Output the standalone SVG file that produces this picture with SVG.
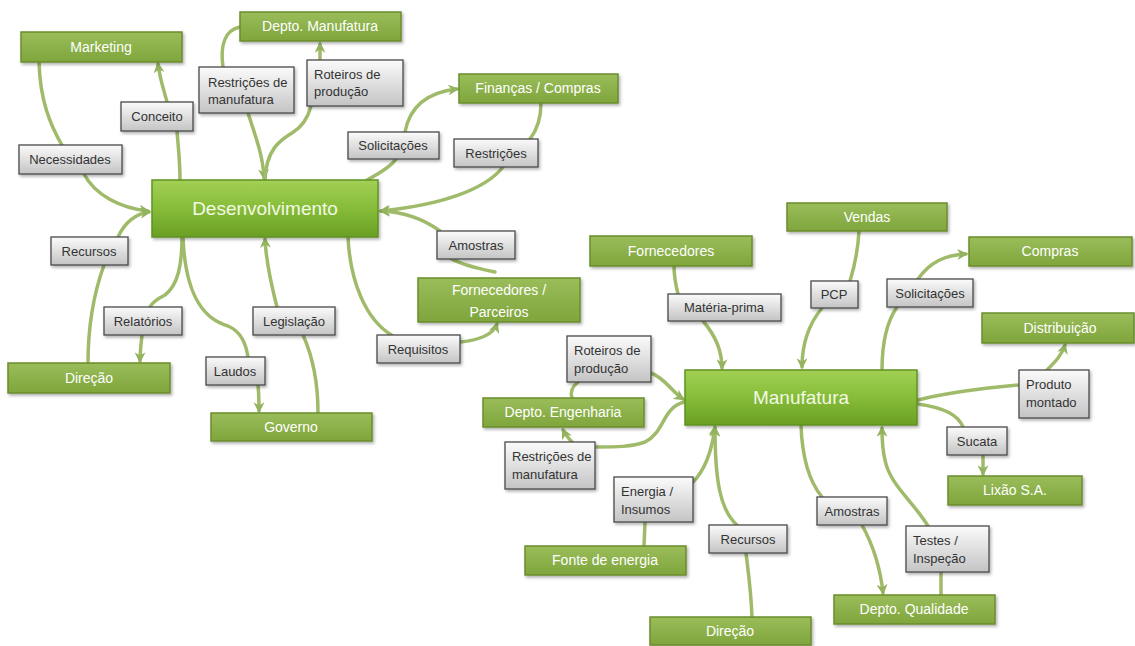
<svg xmlns="http://www.w3.org/2000/svg" width="1135" height="646" viewBox="0 0 1135 646">
<defs>
<linearGradient id="gGreen" x1="0" y1="0" x2="0" y2="1">
<stop offset="0" stop-color="#9abd5a"/>
<stop offset="1" stop-color="#7fa53c"/>
</linearGradient>
<linearGradient id="gCenter" x1="0" y1="0" x2="0" y2="1">
<stop offset="0" stop-color="#a2d055"/>
<stop offset="0.5" stop-color="#86bc38"/>
<stop offset="1" stop-color="#6a9f24"/>
</linearGradient>
<linearGradient id="gGray" x1="0" y1="0" x2="0" y2="1">
<stop offset="0" stop-color="#fbfbfb"/>
<stop offset="1" stop-color="#c4c4c4"/>
</linearGradient>
<filter id="sh" x="-10%" y="-20%" width="125%" height="150%">
<feDropShadow dx="1.5" dy="2" stdDeviation="1.5" flood-color="#000" flood-opacity="0.3"/>
</filter>
<marker id="arr" viewBox="0 0 10 10" refX="8" refY="5" markerWidth="11" markerHeight="11" markerUnits="userSpaceOnUse" orient="auto">
<path d="M0,0 L10,5 L0,10 L3,5 z" fill="#93b35e"/>
</marker>
</defs>
<style>
.c{fill:none;stroke:#9fbb6a;stroke-width:3.5;stroke-linecap:round}
.a{marker-end:url(#arr)}
.g{fill:url(#gGreen);stroke:#6b8d2e;stroke-width:1.5;filter:url(#sh)}
.m{fill:url(#gCenter);stroke:#5f9220;stroke-width:1.5;filter:url(#sh)}
.l{fill:url(#gGray);stroke:#4a4a4a;stroke-width:1.3;filter:url(#sh)}
.gt{font-family:"Liberation Sans",Arial,sans-serif;font-size:14px;fill:#ffffff;text-anchor:middle}
.mt{font-family:"Liberation Sans",Arial,sans-serif;font-size:19px;fill:#f2f9e4;text-anchor:middle}
.lt{font-family:"Liberation Sans",Arial,sans-serif;font-size:13px;fill:#333333;text-anchor:middle}
.ll{font-family:"Liberation Sans",Arial,sans-serif;font-size:13px;fill:#333333}
</style>
<rect width="1135" height="646" fill="#ffffff"/>
<g id="connectors">
<path class="c" d="M39,62 C40,100 50,125 63,147"/>
<path class="c a" d="M84,174 C95,195 120,208 148,211"/>
<path class="c" d="M180,180 C180,160 178,145 177,131"/>
<path class="c a" d="M167,102 C164,90 160,80 158,64"/>
<path class="c" d="M240,27 C225,30 220,45 223,67"/>
<path class="c a" d="M248,113 C255,135 263,155 264,178"/>
<path class="c" d="M265,180 C266,150 280,140 292,133 C302,127 308,118 311,106"/>
<path class="c a" d="M320,60 L320,44"/>
<path class="c" d="M367,180 C382,172 392,165 396,159"/>
<path class="c a" d="M405,132 C410,105 430,92 457,89"/>
<path class="c" d="M541,103 C541,120 537,130 530,139"/>
<path class="c a" d="M503,167 C485,190 440,205 381,211"/>
<path class="c" d="M495,272 C475,268 460,264 450,258"/>
<path class="c a" d="M440,231 C425,220 405,212 381,211"/>
<path class="c" d="M348,237 C350,280 365,320 393,336"/>
<path class="c a" d="M460,342 C480,340 493,335 497,324"/>
<path class="c" d="M88,363 C88,320 95,290 104,265"/>
<path class="c a" d="M118,237 C125,222 135,214 149,212"/>
<path class="c" d="M182,237 C182,265 178,285 165,295 C155,300 152,303 150,307"/>
<path class="c a" d="M142,335 C141,345 140,352 140,361"/>
<path class="c" d="M183,237 C185,290 200,318 228,326 C242,332 246,345 248,357"/>
<path class="c a" d="M258,385 C259,395 259,402 259,411"/>
<path class="c" d="M318,413 C318,380 312,355 303,335"/>
<path class="c a" d="M277,307 C270,280 266,260 265,239"/>
<path class="c" d="M674,266 C674,278 676,286 678,294"/>
<path class="c a" d="M703,321 C715,335 722,350 722,368"/>
<path class="c" d="M859,231 C858,250 854,268 850,281"/>
<path class="c a" d="M822,308 C808,325 802,345 802,367"/>
<path class="c" d="M882,370 C882,340 888,320 897,307"/>
<path class="c a" d="M918,279 C930,262 945,255 966,254"/>
<path class="c" d="M918,400 C950,392 985,388 1019,385"/>
<path class="c a" d="M1047,370 C1055,362 1062,355 1065,345"/>
<path class="c" d="M918,404 C945,408 958,415 963,427"/>
<path class="c a" d="M983,455 L983,474"/>
<path class="c" d="M572,398 C570,392 573,386 578,382"/>
<path class="c a" d="M651,373 C665,378 672,392 683,399"/>
<path class="c" d="M684,402 C662,408 665,432 645,442 C632,447 615,447 597,447"/>
<path class="c a" d="M573,443 C568,438 565,434 563,430"/>
<path class="c" d="M644,546 L645,522"/>
<path class="c a" d="M693,482 C705,470 712,450 715,427"/>
<path class="c" d="M752,617 C751,590 748,570 746,553"/>
<path class="c a" d="M737,525 C720,510 715,480 715,428"/>
<path class="c" d="M801,425 C802,455 808,480 822,497"/>
<path class="c a" d="M862,525 C873,545 880,565 883,593"/>
<path class="c" d="M941,595 L941,572"/>
<path class="c a" d="M928,526 C912,500 890,485 885,460 C882,448 882,438 882,428"/>
</g>
<g id="n-desenvolvimento"><rect class="m" x="152" y="180" width="226" height="57"/><text class="mt" x="265" y="215">Desenvolvimento</text></g>
<g id="n-manufatura"><rect class="m" x="685" y="370" width="232" height="55"/><text class="mt" x="801" y="404">Manufatura</text></g>
<g id="n-marketing"><rect class="g" x="21" y="32" width="161" height="30"/><text class="gt" x="101" y="52">Marketing</text></g>
<g id="n-depto-manufatura"><rect class="g" x="240" y="12" width="161" height="29"/><text class="gt" x="320" y="31">Depto. Manufatura</text></g>
<g id="n-financas"><rect class="g" x="459" y="74" width="159" height="29"/><text class="gt" x="538" y="93">Finanças / Compras</text></g>
<g id="n-fornecedores-parceiros"><rect class="g" x="418" y="278" width="162" height="44"/><text class="gt" x="499" y="295">Fornecedores /</text><text class="gt" x="499" y="317">Parceiros</text></g>
<g id="n-direcao-1"><rect class="g" x="8" y="363" width="162" height="30"/><text class="gt" x="89" y="383">Direção</text></g>
<g id="n-governo"><rect class="g" x="211" y="413" width="161" height="28"/><text class="gt" x="291" y="432">Governo</text></g>
<g id="n-fornecedores"><rect class="g" x="590" y="236" width="162" height="30"/><text class="gt" x="671" y="256">Fornecedores</text></g>
<g id="n-vendas"><rect class="g" x="787" y="203" width="160" height="28"/><text class="gt" x="867" y="222">Vendas</text></g>
<g id="n-compras"><rect class="g" x="969" y="237" width="163" height="29"/><text class="gt" x="1050" y="256">Compras</text></g>
<g id="n-distribuicao"><rect class="g" x="982" y="313" width="152" height="30"/><text class="gt" x="1060" y="333">Distribuição</text></g>
<g id="n-depto-engenharia"><rect class="g" x="483" y="398" width="161" height="29"/><text class="gt" x="563" y="417">Depto. Engenharia</text></g>
<g id="n-lixao"><rect class="g" x="948" y="476" width="134" height="29"/><text class="gt" x="1015" y="495">Lixão S.A.</text></g>
<g id="n-fonte-energia"><rect class="g" x="525" y="546" width="161" height="29"/><text class="gt" x="605" y="565">Fonte de energia</text></g>
<g id="n-direcao-2"><rect class="g" x="650" y="617" width="161" height="28"/><text class="gt" x="730" y="636">Direção</text></g>
<g id="n-depto-qualidade"><rect class="g" x="834" y="595" width="161" height="29"/><text class="gt" x="914" y="614">Depto. Qualidade</text></g>
<g id="l-necessidades"><rect class="l" x="19" y="145" width="103" height="29"/><text class="lt" x="70" y="164">Necessidades</text></g>
<g id="l-conceito"><rect class="l" x="121" y="102" width="72" height="29"/><text class="lt" x="157" y="121">Conceito</text></g>
<g id="l-restricoes-manuf-1"><rect class="l" x="199" y="67" width="95" height="46"/><text class="ll" x="208" y="87">Restrições de</text><text class="ll" x="208" y="104">manufatura</text></g>
<g id="l-roteiros-1"><rect class="l" x="307" y="60" width="96" height="46"/><text class="ll" x="314" y="79">Roteiros de</text><text class="ll" x="314" y="96">produção</text></g>
<g id="l-solicitacoes-1"><rect class="l" x="348" y="132" width="91" height="27"/><text class="lt" x="393" y="150">Solicitações</text></g>
<g id="l-restricoes"><rect class="l" x="454" y="139" width="84" height="28"/><text class="lt" x="496" y="158">Restrições</text></g>
<g id="l-amostras-1"><rect class="l" x="437" y="231" width="78" height="28"/><text class="lt" x="476" y="250">Amostras</text></g>
<g id="l-requisitos"><rect class="l" x="377" y="335" width="83" height="28"/><text class="lt" x="418" y="354">Requisitos</text></g>
<g id="l-recursos-1"><rect class="l" x="51" y="237" width="77" height="28"/><text class="lt" x="89" y="256">Recursos</text></g>
<g id="l-relatorios"><rect class="l" x="104" y="307" width="78" height="28"/><text class="lt" x="143" y="326">Relatórios</text></g>
<g id="l-laudos"><rect class="l" x="206" y="357" width="59" height="28"/><text class="lt" x="235" y="376">Laudos</text></g>
<g id="l-legislacao"><rect class="l" x="253" y="307" width="82" height="28"/><text class="lt" x="294" y="326">Legislação</text></g>
<g id="l-materia-prima"><rect class="l" x="668" y="294" width="113" height="27"/><text class="lt" x="724" y="312">Matéria-prima</text></g>
<g id="l-pcp"><rect class="l" x="811" y="281" width="47" height="27"/><text class="lt" x="834" y="299">PCP</text></g>
<g id="l-solicitacoes-2"><rect class="l" x="887" y="279" width="86" height="28"/><text class="lt" x="930" y="298">Solicitações</text></g>
<g id="l-produto-montado"><rect class="l" x="1019" y="370" width="70" height="48"/><text class="ll" x="1026" y="389">Produto</text><text class="ll" x="1026" y="407">montado</text></g>
<g id="l-sucata"><rect class="l" x="947" y="427" width="60" height="28"/><text class="lt" x="977" y="446">Sucata</text></g>
<g id="l-roteiros-2"><rect class="l" x="567" y="336" width="84" height="46"/><text class="ll" x="574" y="355">Roteiros de</text><text class="ll" x="574" y="373">produção</text></g>
<g id="l-restricoes-manuf-2"><rect class="l" x="505" y="442" width="90" height="47"/><text class="ll" x="512" y="461">Restrições de</text><text class="ll" x="512" y="479">manufatura</text></g>
<g id="l-energia"><rect class="l" x="614" y="477" width="79" height="45"/><text class="ll" x="621" y="496">Energia /</text><text class="ll" x="621" y="514">Insumos</text></g>
<g id="l-recursos-2"><rect class="l" x="709" y="525" width="78" height="28"/><text class="lt" x="748" y="544">Recursos</text></g>
<g id="l-amostras-2"><rect class="l" x="817" y="497" width="70" height="28"/><text class="lt" x="852" y="516">Amostras</text></g>
<g id="l-testes"><rect class="l" x="906" y="526" width="83" height="46"/><text class="ll" x="913" y="545">Testes /</text><text class="ll" x="913" y="563">Inspeção</text></g>
</svg>
